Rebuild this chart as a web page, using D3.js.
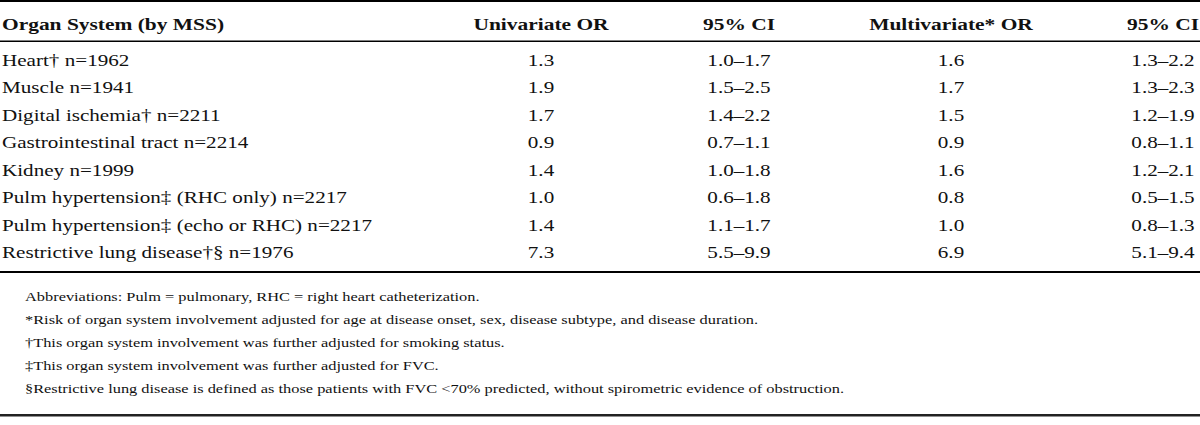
<!DOCTYPE html>
<html>
<head>
<meta charset="utf-8">
<script src="https://cdn.jsdelivr.net/npm/d3@7/dist/d3.min.js"></script>
<style>
  html, body { margin: 0; padding: 0; background: #fff; }
  svg text { font-family: "Liberation Serif", "Times New Roman", serif; fill: #111; }
</style>
</head>
<body>
<svg id="chart" width="1200" height="425"></svg>
<script>
const headers = ["Organ System (by MSS)", "Univariate OR", "95% CI", "Multivariate* OR", "95% CI"];
const organs = ["Heart† n=1962", "Muscle n=1941", "Digital ischemia† n=2211", "Gastrointestinal tract n=2214",
  "Kidney n=1999", "Pulm hypertension‡ (RHC only) n=2217", "Pulm hypertension‡ (echo or RHC) n=2217",
  "Restrictive lung disease†§ n=1976"];
const uniOR = ["1.3", "1.9", "1.7", "0.9", "1.4", "1.0", "1.4", "7.3"];
const uniCI = ["1.0–1.7", "1.5–2.5", "1.4–2.2", "0.7–1.1", "1.0–1.8", "0.6–1.8", "1.1–1.7", "5.5–9.9"];
const multiOR = ["1.6", "1.7", "1.5", "0.9", "1.6", "0.8", "1.0", "6.9"];
const multiCI = ["1.3–2.2", "1.3–2.3", "1.2–1.9", "0.8–1.1", "1.2–2.1", "0.5–1.5", "0.8–1.3", "5.1–9.4"];
const footnotes = [
  "Abbreviations: Pulm = pulmonary, RHC = right heart catheterization.",
  "*Risk of organ system involvement adjusted for age at disease onset, sex, disease subtype, and disease duration.",
  "†This organ system involvement was further adjusted for smoking status.",
  "‡This organ system involvement was further adjusted for FVC.",
  "§Restrictive lung disease is defined as those patients with FVC <70% predicted, without spirometric evidence of obstruction."
];

const svg = d3.select("#chart");
const fs = 16;        // body font size (vertical)
const fsNote = 12.4;
const sxHead = 1.34;  // horizontal stretch of the source image
const sx = 1.32;

const colX = [2, 541, 739, 951, 1163];
const colAnchor = ["start", "middle", "middle", "middle", "middle"];

const rowY = d3.scalePoint().domain(d3.range(organs.length)).range([66, 258]);
const noteY = d3.scalePoint().domain(d3.range(footnotes.length)).range([301, 393]);

// rules
svg.append("rect").attr("x", 0).attr("y", 0).attr("width", 1200).attr("height", 2).attr("fill", "#000");
svg.append("rect").attr("x", 0).attr("y", 40.5).attr("width", 1200).attr("height", 1.5).attr("fill", "#000");
svg.append("rect").attr("x", 0).attr("y", 271).attr("width", 1200).attr("height", 2).attr("fill", "#000");
svg.append("rect").attr("x", 0).attr("y", 414).attr("width", 1200).attr("height", 2.5).attr("fill", "#222");

// header
svg.append("g").selectAll("text").data(headers).join("text")
  .attr("transform", (d, i) => `translate(${colX[i]},30) scale(${sxHead},1)`)
  .attr("text-anchor", (d, i) => colAnchor[i])
  .attr("font-size", fs).attr("font-weight", "bold")
  .text(d => d);

// body
const cols = [organs, uniOR, uniCI, multiOR, multiCI];
cols.forEach((col, ci) => {
  svg.append("g").selectAll("text").data(col).join("text")
    .attr("transform", (d, i) => `translate(${colX[ci]},${rowY(i)}) scale(${sx},1)`)
    .attr("text-anchor", colAnchor[ci])
    .attr("font-size", fs)
    .text(d => d);
});

// footnotes
svg.append("g").selectAll("text").data(footnotes).join("text")
  .attr("transform", (d, i) => `translate(25,${noteY(i)}) scale(${sx},1)`)
  .attr("font-size", fsNote)
  .text(d => d);
</script>
</body>
</html>
